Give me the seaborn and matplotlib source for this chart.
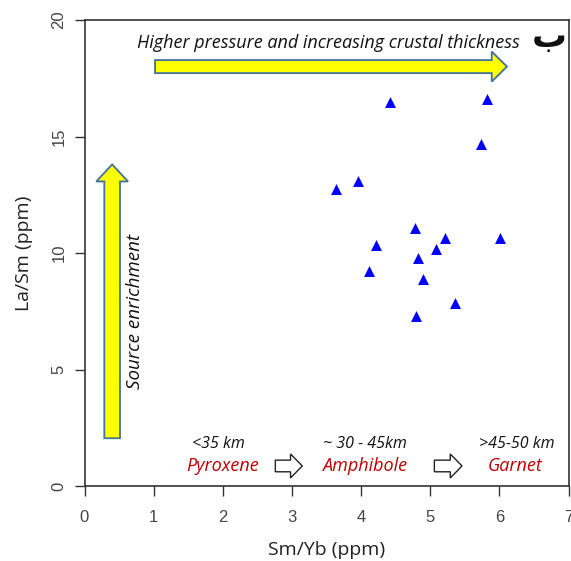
import matplotlib
matplotlib.use("Agg")
import matplotlib.pyplot as plt
from matplotlib.patches import FancyArrow
import seaborn as sns
import pandas as pd

# Data
sm_yb = [4.42, 5.82, 5.73, 3.95, 3.64, 4.78, 5.21, 6.01, 4.21, 5.08, 4.83, 4.11, 4.90, 5.36, 4.80]
la_sm = [16.49, 16.6, 14.68, 13.1, 12.75, 11.09, 10.63, 10.63, 10.34, 10.16, 9.80, 9.23, 8.90, 7.87, 7.30]
x_ticks = [0, 1, 2, 3, 4, 5, 6, 7]
y_ticks = [0, 5, 10, 15, 20]

df = pd.DataFrame({"Sm/Yb": sm_yb, "La/Sm": la_sm})

sns.set_style("ticks")
plt.rcParams['font.family'] = ['Liberation Sans', 'DejaVu Sans']

fig = plt.figure(figsize=(5.71, 5.61), dpi=100)
ax = fig.add_axes([84.5 / 571, 1 - 486 / 561, (568.5 - 84.5) / 571, (486 - 20) / 561])

sns.scatterplot(data=df, x="Sm/Yb", y="La/Sm", marker="^", color="#0000FF",
                s=62, linewidth=0, ax=ax, zorder=5)

ax.set_xlim(0, 7)
ax.set_ylim(0, 20)
ax.set_xticks(x_ticks)
ax.set_yticks(y_ticks)
ax.tick_params(axis="both", direction="out", length=7, width=1, labelsize=12,
               colors="#333333", labelcolor="#444444")
ax.tick_params(axis="x", pad=10)
ax.tick_params(axis="y", pad=6)
for lab in ax.get_yticklabels():
    lab.set_rotation(90)
    lab.set_va("center")
for sp in ax.spines.values():
    sp.set_visible(True)
    sp.set_color("#333333")
    sp.set_linewidth(1.2)

lab_font = ['Open Sans', 'DejaVu Sans']
ax.set_xlabel("Sm/Yb (ppm)", fontsize=14, family=lab_font, labelpad=12, color="#222222")
ax.set_ylabel("La/Sm (ppm)", fontsize=14, family=lab_font, labelpad=13, color="#222222")

yellow = "#FFFF00"
edge = "#41719C"

# Horizontal arrow
ax.add_patch(FancyArrow(1.02, 18.0, 6.11 - 1.02, 0, width=0.56, head_width=1.29,
                        head_length=0.22, length_includes_head=True,
                        facecolor=yellow, edgecolor=edge, linewidth=1.3, zorder=4))
# Vertical arrow
ax.add_patch(FancyArrow(0.40, 2.05, 0, 13.8 - 2.05, width=0.227, head_width=0.46,
                        head_length=0.73, length_includes_head=True,
                        facecolor=yellow, edgecolor=edge, linewidth=1.3, zorder=4))

it_font = ['Open Sans', 'DejaVu Sans']
ax.text(0.76, 19.0, "Higher pressure and increasing crustal thickness", fontsize=13,
        style="italic", family=it_font, ha="left", va="center", color="#111111")
ax.text(6.72, 18.85, "ب", fontsize=25, family=['DejaVu Sans'], fontweight="bold",
        ha="center", va="baseline", color="#111111")
ax.text(0.73, 7.5, "Source enrichment", fontsize=13.5, style="italic", family=it_font,
        rotation=90, ha="center", va="center", color="#111111")

# Mineral zones
red = "#C00000"
ax.text(1.93, 1.8, "<35 km", fontsize=11.5, style="italic", family=it_font,
        ha="center", va="center", color="#111111")
ax.text(2.0, 0.85, "Pyroxene", fontsize=13, style="italic", family=it_font,
        ha="center", va="center", color=red)
ax.text(4.05, 1.8, "~ 30 - 45km", fontsize=11.5, style="italic", family=it_font,
        ha="center", va="center", color="#111111")
ax.text(4.05, 0.85, "Amphibole", fontsize=13, style="italic", family=it_font,
        ha="center", va="center", color=red)
ax.text(6.25, 1.8, ">45-50 km", fontsize=11.5, style="italic", family=it_font,
        ha="center", va="center", color="#111111")
ax.text(6.22, 0.85, "Garnet", fontsize=13, style="italic", family=it_font,
        ha="center", va="center", color=red)

for x0, x1 in [(2.76, 3.15), (5.06, 5.46)]:
    ax.add_patch(FancyArrow(x0, 0.86, x1 - x0, 0, width=0.5, head_width=1.03,
                            head_length=0.17, length_includes_head=True,
                            facecolor="white", edgecolor="#222222", linewidth=1.0,
                            zorder=4))

fig.savefig("out.png", dpi=100)
